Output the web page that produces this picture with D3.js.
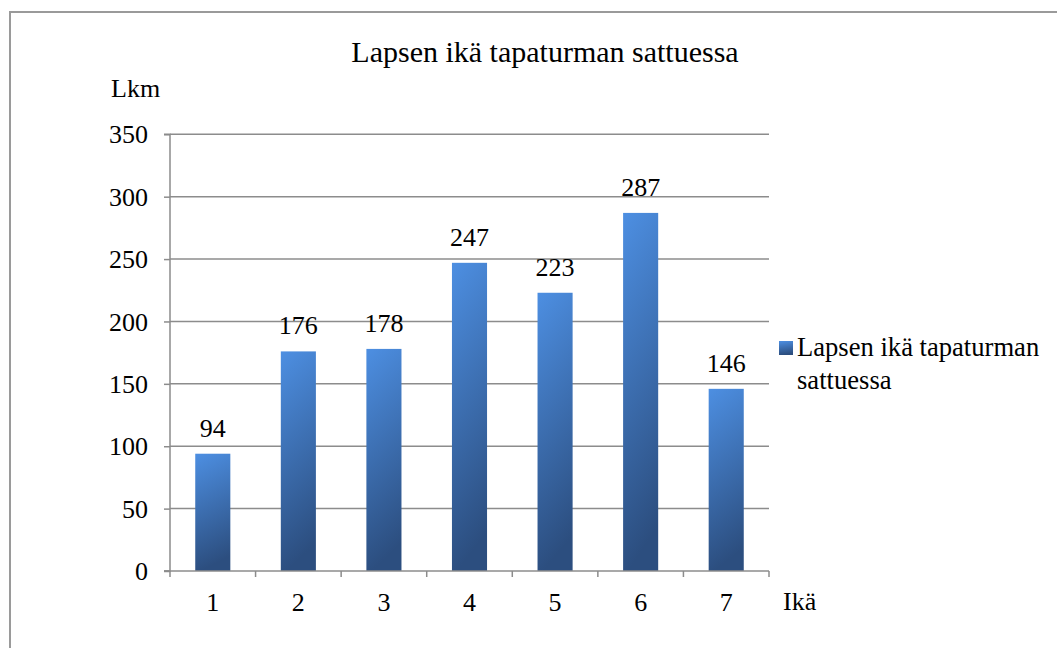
<!DOCTYPE html>
<html><head><meta charset="utf-8">
<script src="https://cdn.jsdelivr.net/npm/d3@7"></script>
<style>body{margin:0;background:#fff}svg{display:block}</style>
</head><body><svg id="c" width="1057" height="648"></svg>
<script>
const categories = ["1","2","3","4","5","6","7"];
const values = [94,176,178,247,223,287,146];
const yTicks = [0,50,100,150,200,250,300,350];
const seriesName = "Lapsen ikä tapaturman sattuessa";
const title = "Lapsen ikä tapaturman sattuessa";
const FF = "'Liberation Serif', Tinos, 'Times New Roman', 'DejaVu Serif', serif";

const svg = d3.select("#c");
const L=170, R=769, T=134.3, B=571;
const x = d3.scaleBand().domain(categories).range([L,R]).paddingInner(0.59).paddingOuter(0.295);
const y = d3.scaleLinear().domain([0,350]).range([B,T]);

const defs = svg.append("defs");
const g = defs.append("linearGradient").attr("id","bg").attr("x1","0").attr("y1","0").attr("x2","0.15").attr("y2","1");
g.append("stop").attr("offset","0").attr("stop-color","#4d8fe2");
g.append("stop").attr("offset","1").attr("stop-color","#2c4e7f");

function txt(sel){ return sel.style("font-family",FF).attr("fill","#000"); }

svg.append("rect").attr("x",10).attr("y",12).attr("width",1100).attr("height",700)
  .attr("fill","none").attr("stroke","#9a9a9a").attr("stroke-width",2);

txt(svg.append("text")).attr("x",545).attr("y",62).attr("text-anchor","middle").style("font-size","30px").text(title);

svg.append("g").selectAll("line").data(yTicks.filter(d=>d>0)).join("line")
  .attr("x1",L).attr("x2",R).attr("y1",d=>y(d)).attr("y2",d=>y(d))
  .attr("stroke","#8c8c8c").attr("stroke-width",1.5);

const ya = svg.append("g").attr("transform",`translate(${L},0)`)
  .call(d3.axisLeft(y).tickValues(yTicks).tickSize(6).tickPadding(16));
ya.select(".domain").attr("stroke","#8c8c8c").attr("stroke-width",1.5).attr("d",`M-6,${T}H0V${B}H-6`);
ya.selectAll(".tick line").attr("stroke","#8c8c8c").attr("stroke-width",1.5);
txt(ya.selectAll(".tick text")).style("font-size","26px").attr("dy","0.33em");

svg.append("g").selectAll("rect").data(values).join("rect")
  .attr("x",(d,i)=>x(categories[i])).attr("width",x.bandwidth())
  .attr("y",d=>y(d)).attr("height",d=>B-y(d)).attr("fill","url(#bg)");

txt(svg.append("g").selectAll("text").data(values).join("text"))
  .attr("x",(d,i)=>x(categories[i])+x.bandwidth()/2).attr("y",d=>y(d)-17)
  .attr("text-anchor","middle").style("font-size","26px").text(d=>d);

const xa = svg.append("g").attr("transform",`translate(0,${B})`);
xa.append("line").attr("x1",L-6).attr("x2",R).attr("stroke","#8c8c8c").attr("stroke-width",1.5);
const step = (R-L)/categories.length;
xa.selectAll("line.t").data(d3.range(categories.length+1)).join("line").attr("class","t")
  .attr("x1",i=>L+i*step).attr("x2",i=>L+i*step).attr("y1",0).attr("y2",6)
  .attr("stroke","#8c8c8c").attr("stroke-width",1.5);
txt(xa.selectAll("text").data(categories).join("text"))
  .attr("x",d=>x(d)+x.bandwidth()/2).attr("y",40).attr("text-anchor","middle").style("font-size","26px").text(d=>d);

txt(svg.append("text")).attr("x",783).attr("y",610).style("font-size","26px").text("Ikä");
txt(svg.append("text")).attr("x",111).attr("y",97).style("font-size","26px").text("Lkm");

svg.append("rect").attr("x",779).attr("y",341).attr("width",14).attr("height",14).attr("fill","url(#bg)");
const lt = txt(svg.append("text")).attr("x",797).attr("y",356).style("font-size","26.6px");
lt.append("tspan").attr("x",797).text("Lapsen ikä tapaturman");
lt.append("tspan").attr("x",797).attr("dy",33).text("sattuessa");
</script></body></html>
